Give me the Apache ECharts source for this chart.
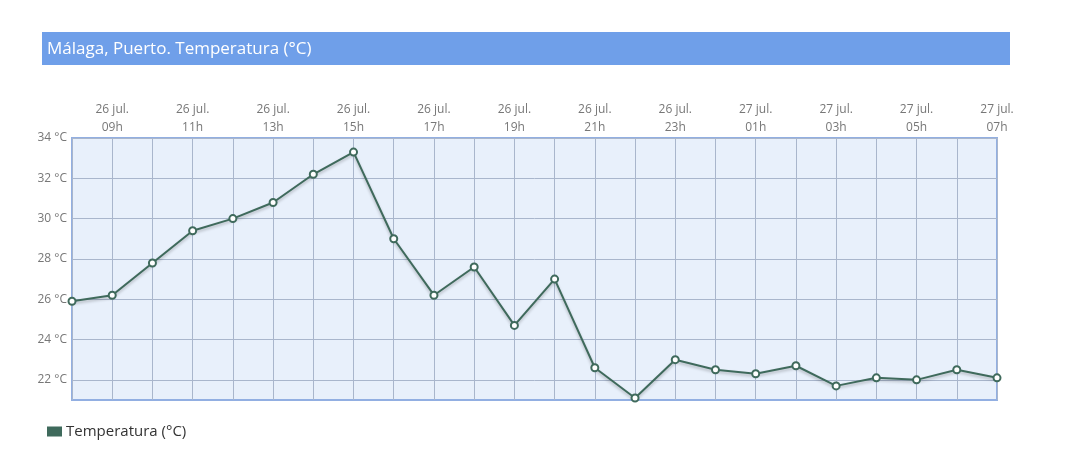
<!DOCTYPE html>
<html>
<head>
<meta charset="utf-8">
<script src="https://cdn.jsdelivr.net/npm/echarts@6/dist/echarts.min.js"></script>
<style>
html,body{margin:0;padding:0;background:#ffffff;}
#chart{width:1065px;height:460px;}
</style>
</head>
<body>
<div id="chart"></div>
<script>
var titleText = 'Málaga, Puerto. Temperatura (°C)';
var seriesName = 'Temperatura (°C)';
var categories = [
  '26 jul.\n08h','26 jul.\n09h','26 jul.\n10h','26 jul.\n11h','26 jul.\n12h','26 jul.\n13h',
  '26 jul.\n14h','26 jul.\n15h','26 jul.\n16h','26 jul.\n17h','26 jul.\n18h','26 jul.\n19h',
  '26 jul.\n20h','26 jul.\n21h','26 jul.\n22h','26 jul.\n23h','27 jul.\n00h','27 jul.\n01h',
  '27 jul.\n02h','27 jul.\n03h','27 jul.\n04h','27 jul.\n05h','27 jul.\n06h','27 jul.\n07h'
];
var temps = [25.9, 26.2, 27.8, 29.4, 30.0, 30.8, 32.2, 33.3, 29.0, 26.2, 27.6, 24.7,
             27.0, 22.6, 21.1, 23.0, 22.5, 22.3, 22.7, 21.7, 22.1, 22.0, 22.5, 22.1];
var yTicks = [22, 24, 26, 28, 30, 32, 34];
var yMin = 21, yMax = 34;

var chart = echarts.init(document.getElementById('chart'));
chart.setOption({
  animation: false,
  textStyle: {fontFamily: '"Open Sans", sans-serif'},
  graphic: [
    {type: 'rect', shape: {x: 42, y: 32, width: 968, height: 33}, style: {fill: '#6f9fe9'}, z: 0},
    {type: 'text', left: 47, top: 41, style: {text: titleText, fill: '#ffffff', font: '17px "Open Sans", sans-serif'}, z: 1}
  ],
  grid: {
    left: 72, right: 68, top: 138, bottom: 60,
    show: true, backgroundColor: '#e8f0fb', borderColor: '#92afe2', borderWidth: 2
  },
  legend: {
    left: 47, top: 424, padding: 0,
    icon: 'rect', itemWidth: 13, itemHeight: 8, itemGap: 10,
    textStyle: {fontSize: 15, color: '#333333', fontFamily: '"Open Sans", sans-serif'},
    data: [seriesName]
  },
  xAxis: {
    type: 'category', position: 'top', boundaryGap: false,
    data: categories,
    axisLine: {show: false},
    axisTick: {show: false},
    axisLabel: {
      interval: function (i) { return i % 2 === 1; },
      color: '#777777', fontSize: 12, lineHeight: 18, margin: 1
    },
    splitLine: {show: true, interval: 0, lineStyle: {color: '#a9b6cc', width: 1}}
  },
  yAxis: {
    type: 'value', min: yMin, max: yMax,
    axisLine: {show: false},
    axisTick: {show: false, customValues: yTicks},
    axisLabel: {customValues: yTicks, formatter: '{value} °C', color: '#777777', fontSize: 12, margin: 5, padding: [5, 0, 0, 0]},
    splitLine: {show: true, lineStyle: {color: '#a9b6cc', width: 1}}
  },
  series: [{
    name: seriesName, type: 'line', data: temps,
    symbol: 'emptyCircle', symbolSize: 7,
    lineStyle: {color: '#3f6a5c', width: 2, shadowColor: 'rgba(0,0,0,0.25)', shadowBlur: 3, shadowOffsetY: 2},
    itemStyle: {color: '#3f6a5c', borderColor: '#3f6a5c', borderWidth: 2},
    color: '#3f6a5c'
  }]
});
</script>
</body>
</html>
